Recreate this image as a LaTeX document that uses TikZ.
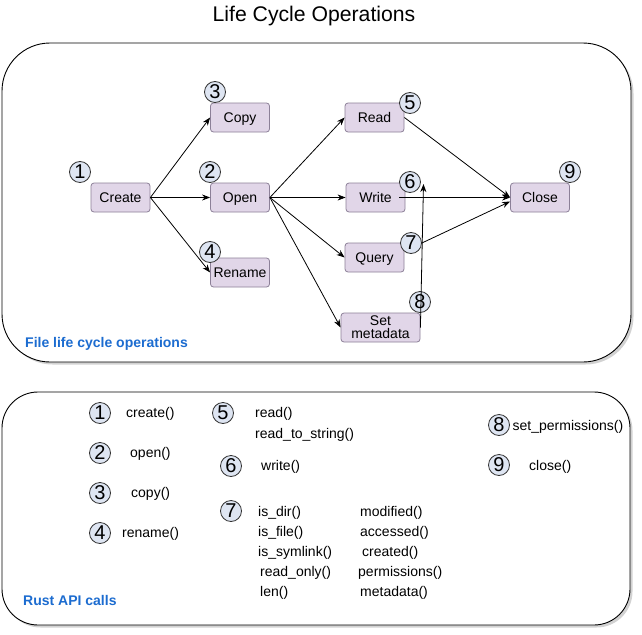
\documentclass[tikz,border=0pt]{standalone}
\usepackage{fontspec}
\setmainfont{Liberation Sans}
\usetikzlibrary{arrows.meta,shadows}
\definecolor{boxfill}{RGB}{225,214,232}
\definecolor{boxdraw}{RGB}{140,128,152}
\definecolor{numfill}{RGB}{222,229,242}
\definecolor{lblblue}{RGB}{28,108,208}
\newcommand{\txtfont}{\fontsize{14}{15.5}\selectfont}
\newcommand{\numfont}{\fontsize{20}{20}\selectfont}
\tikzset{
  container/.style={draw=black, line width=0.9pt, fill=white,
    drop shadow={shadow xshift=2.5pt, shadow yshift=-2.5pt, fill=black!35, opacity=0.5}},
  opbox/.style={draw=boxdraw, fill=boxfill, line width=0.8pt, rounded corners=3pt,
    minimum width=59pt, minimum height=29pt, inner sep=1pt, font=\txtfont, align=center,
    text depth=0.5pt},
  numc/.style={circle, draw=black!80, fill=numfill, line width=0.8pt, minimum size=21pt,
    inner sep=0pt, font=\numfont},
  arr/.style={-{Stealth[length=8pt,width=6pt,inset=2.5pt]}, line width=0.8pt},
  api/.style={anchor=west, inner sep=0pt, font=\txtfont},
  lbl/.style={anchor=west, inner sep=0pt, font=\txtfont\bfseries, text=lblblue}
}
\begin{document}
\begin{tikzpicture}[x=1pt,y=-1pt]
\useasboundingbox (0,0) rectangle (642,634);
% title
\node[font=\fontsize{21.2}{23}\selectfont] (title) at (314,16) {Life Cycle Operations};
% containers
\draw[container, rounded corners=48pt] (2,43) rectangle (631,362);
\draw[container, rounded corners=36pt] (2,392) rectangle (630,625);
\node[lbl] (lbltop) at (25,344) {File life cycle operations};
\node[lbl] (lblbot) at (23,600) {Rust API calls};
% operation boxes
\node[opbox] (create) at (120.5,197.5) {Create};
\node[opbox] (copy) at (240,117.5) {Copy};
\node[opbox] (open) at (240,197.5) {Open};
\node[opbox] (rename) at (240,272.5) {Rename};
\node[opbox] (read) at (374.5,117.5) {Read};
\node[opbox] (write) at (375.5,197.5) {Write};
\node[opbox] (query) at (374.5,257.5) {Query};
\node[opbox, minimum width=79pt] (setmeta) at (380.5,327.5) {Set\\[-2pt]metadata};
\node[opbox] (close) at (540,197.5) {Close};
% number circles (top)
\node[numc] (n1) at (80,172) {1};
\node[numc] (n2) at (210,172) {2};
\node[numc] (n3) at (215,92) {3};
\node[numc] (n4) at (210,252) {4};
\node[numc] (n5) at (410,103) {5};
\node[numc] (n6) at (410,182) {6};
\node[numc] (n7) at (411,243) {7};
\node[numc] (n8) at (420,302) {8};
\node[numc] (n9) at (570,172) {9};
% connectors
\draw[arr] (create.east) -- (copy.west);
\draw[arr] (create.east) -- (open.west);
\draw[arr] (create.east) -- (rename.west);
\draw[arr] (open.east) -- (read.west);
\draw[arr] (open.east) -- (write.west);
\draw[arr] (open.east) -- (query.west);
\draw[arr] (open.east) -- (setmeta.west);
\draw[arr] (read.east) -- (close.west);
\draw[arr] ([xshift=-6pt]write.east) -- (close.west);
\draw[arr] (n7.east) -- ([yshift=-4pt]close.west);
\coordinate (up) at (423.5,184);
\draw[arr] (setmeta.east) -- (up);
% bottom circles
\node[numc] (b1) at (100,413) {1};
\node[numc] (b2) at (100,453) {2};
\node[numc] (b3) at (100,493) {3};
\node[numc] (b4) at (100,533) {4};
\node[numc] (b5) at (223,413) {5};
\node[numc] (b6) at (231,466) {6};
\node[numc] (b7) at (231,511) {7};
\node[numc] (b8) at (499,425) {8};
\node[numc] (b9) at (499,465) {9};
% API texts
\node[api] (t1) at (126,414) {create()};
\node[api] (t2) at (130,454) {open()};
\node[api] (t3) at (131,494) {copy()};
\node[api] (t4) at (122,534) {rename()};
\node[api] (t5a) at (255,414) {read()};
\node[api] (t5b) at (255,435) {read\_to\_string()};
\node[api] (t6) at (261,467) {write()};
\node[api] (t7a) at (258,513) {is\_dir()};
\node[api] (t7b) at (258,533) {is\_file()};
\node[api] (t7c) at (258,553) {is\_symlink()};
\node[api] (t7d) at (260,573) {read\_only()};
\node[api] (t7e) at (260,593) {len()};
\node[api] (t7f) at (360,513) {modified()};
\node[api] (t7g) at (360,533) {accessed()};
\node[api] (t7h) at (362,553) {created()};
\node[api] (t7i) at (358,573) {permissions()};
\node[api] (t7j) at (360,593) {metadata()};
\node[api] (t8) at (512.5,427) {set\_permissions()};
\node[api] (t9) at (529,467) {close()};
\end{tikzpicture}
\end{document}
